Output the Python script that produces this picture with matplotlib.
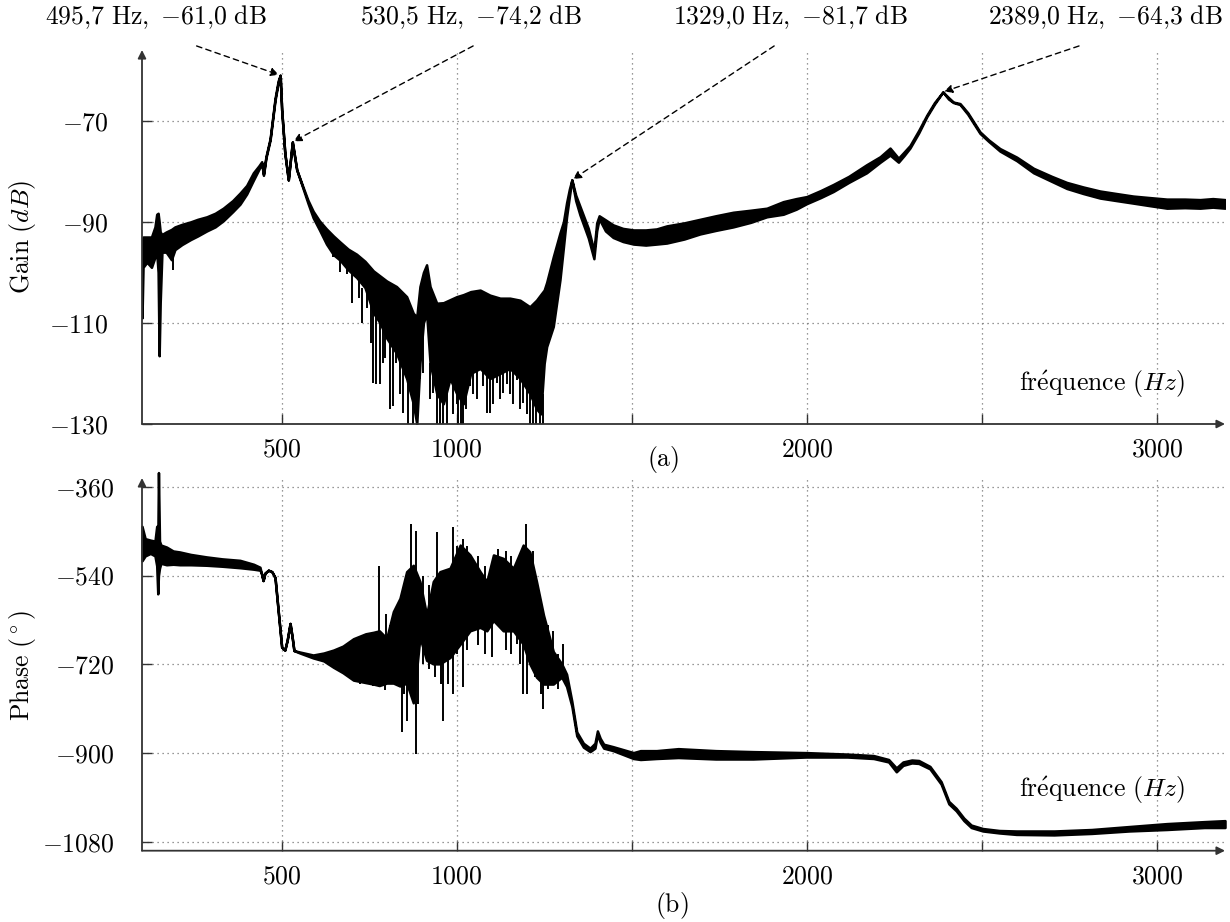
import numpy as np
import matplotlib
matplotlib.use("Agg")
import matplotlib.pyplot as plt

plt.rcParams['font.family'] = 'serif'
plt.rcParams['font.serif'] = ['cmr10']
plt.rcParams['mathtext.fontset'] = 'cm'
plt.rcParams['axes.formatter.use_mathtext'] = True

# ---------------- gain (dB): envelope of the measured curve ----------------
gain_f = [101, 104, 115, 128, 138, 143, 147, 150, 153, 158, 170, 185, 195, 215, 240,
          260, 286, 310, 333, 360, 381, 400, 419, 435, 443, 448, 455, 467, 481, 490,
          495.7, 500, 509, 519, 530.5, 543, 562, 575, 590, 608, 628, 648, 667, 690,
          714, 738, 762, 781, 800, 828, 857, 876, 886, 895, 905, 914, 924, 943, 962,
          981, 1000, 1019, 1040, 1067, 1095, 1124, 1152, 1181, 1209, 1228, 1240, 1250,
          1257, 1276, 1295, 1305, 1314, 1322, 1329, 1340, 1352, 1376, 1392, 1400, 1407,
          1425, 1447, 1475, 1505, 1540, 1571, 1600, 1650, 1695, 1740, 1790, 1840, 1886,
          1933, 1970, 2000, 2040, 2076, 2120, 2171, 2210, 2238, 2262, 2278, 2295, 2320,
          2343, 2365, 2389, 2405, 2419, 2438, 2460, 2495, 2520, 2552, 2600, 2648, 2700,
          2743, 2790, 2838, 2885, 2933, 2980, 3029, 3080, 3124, 3160, 3195]
gain_lo = [-109, -99, -98, -99, -97, -96, -100, -116.5, -106, -96, -96, -97.5, -95.5, -94.5, -93.5,
           -92.8, -91.8, -91, -89.8, -88, -86.5, -84.5, -81.8, -79.6, -78.4, -80.8, -77.4, -73.8, -66, -62.5,
           -61.0, -67.8, -76.4, -81.7, -74.2, -79.7, -83.6, -86.3, -89.2, -91.6, -94.4, -96.5, -97.6, -99.5,
           -101, -103, -108, -110, -113, -116, -121, -126, -130, -118, -110, -108, -118, -124, -126,
           -121, -124, -126, -120, -119, -121, -120, -119, -121, -124, -127, -128, -118,
           -114.7, -110.7, -101.5, -95, -89, -85, -81.7, -85.8, -88.6, -93.2, -97.3, -91.8, -89.4,
           -91.8, -93.1, -93.9, -94.4, -94.6, -94.4, -94.2, -93.4, -92.4, -91.7, -91, -90.1, -89,
           -88.5, -87.5, -86.4, -85.2, -84, -82.2, -80.3, -78.2, -76.8, -78.2, -76.9, -75.4, -72.4,
           -69.2, -66.7, -64.3, -65.7, -66.4, -66.8, -68.7, -72.5, -74.1, -76, -77.9, -80.3, -82,
           -83.4, -84.4, -85.3, -85.8, -86.3, -86.8, -87.3, -87.2, -87.3, -87.1, -87.3]
gain_hi = [-94, -93, -93, -93, -91, -88.5, -88.3, -90, -92, -92.5, -92, -91.5, -91, -90.5, -90,
           -89.5, -89, -88.3, -87.3, -85.8, -84.3, -82.8, -80.3, -78.9, -78.1, -80.6, -77.1, -73.5, -65.6, -62.1,
           -61.0, -67.8, -76.4, -81.7, -74.2, -79.7, -83.3, -85.7, -87.9, -89.8, -91.4, -92.8, -94, -95.4,
           -96.4, -97.8, -99.7, -100.7, -101.7, -102.8, -104.8, -108.1, -108.8, -102.8, -100, -98.5, -102.8, -106.1, -106,
           -105.4, -104.8, -104.4, -103.8, -103.5, -104.5, -105.1, -105.1, -105.5, -106.8, -105.5, -104.4, -103.5,
           -102, -96.9, -92.2, -90, -86.2, -83.5, -81.7, -84.7, -86.9, -91.3, -95.7, -90.2, -88.8,
           -89.6, -90.6, -91.3, -91.6, -91.6, -91.4, -90.8, -90.2, -89.5, -88.8, -88.1, -87.7, -87.3,
           -86, -85.4, -85, -83.8, -82.6, -81, -78.7, -77.1, -75.4, -77.4, -76.2, -74.9, -71.9,
           -68.9, -66.4, -64.3, -65.4, -66.3, -66.6, -68.4, -72.2, -73.8, -75.5, -77.2, -79.4, -81,
           -82.2, -83.1, -83.9, -84.4, -84.9, -85.2, -85.5, -85.5, -85.6, -85.4, -85.6]

# isolated noise spikes below the band: frequency, bottom, top
gain_spike_f = [190, 648, 667, 686, 700, 720, 730, 743, 755, 762, 770, 781, 790, 795, 809,
                819, 828, 838, 847, 860, 876, 895, 905, 924, 933, 943, 952, 960, 971, 990,
                1000, 1005, 1012, 1019, 1028, 1038, 1048, 1057, 1076, 1086, 1095, 1105, 1114,
                1124, 1133, 1143, 1152, 1162, 1171, 1181, 1190, 1200, 1209, 1218, 1228, 1238, 1247]
gain_spike_lo = [-99.5, -97, -100, -100.3, -106, -105, -110, -107, -114, -121.8, -122, -122, -118, -117, -127,
                 -126.5, -118, -124, -127.9, -130, -130, -121, -120, -125, -123.9, -130, -130, -130, -130, -128,
                 -126, -130, -130, -130, -127, -122.4, -124, -125, -122.4, -127.8, -127.8, -126, -121.8,
                 -125, -123.9, -122, -124, -126, -121.2, -127, -125.8, -128, -130, -130, -130, -130, -130]
gain_spike_hi = [-95, -93, -95, -96, -100, -99, -103, -101, -106, -106, -108, -108, -110, -110, -112,
                 -112, -112, -114, -116, -118, -125, -115, -110, -118, -118, -122, -124, -124, -122, -120,
                 -120, -124, -124, -124, -120, -118, -118, -116, -116, -117, -118, -118, -118,
                 -118, -118, -116, -116, -118, -117, -118, -118, -120, -120, -122, -124, -124, -124]

# ---------------- phase (deg): envelope of the measured curve ----------------
phase_f = [101, 110, 125, 138, 143, 146, 148, 151, 155, 171, 190, 209, 240, 285, 330, 381,
           420, 438, 442, 447, 452, 462, 472, 481, 490, 500, 509, 516, 524, 530, 535, 552,
           590, 620, 648, 675, 705, 740, 762, 779, 800, 819, 838, 857, 876, 895, 914, 933,
           952, 981, 1010, 1038, 1067, 1086, 1105, 1133, 1162, 1190, 1209, 1228, 1248, 1276,
           1300, 1314, 1329, 1343, 1362, 1381, 1395, 1402, 1410, 1420, 1447, 1505, 1525,
           1571, 1633, 1740, 1847, 1998, 2116, 2191, 2234, 2256, 2275, 2300, 2320, 2352,
           2384, 2406, 2427, 2449, 2470, 2503, 2550, 2599, 2707, 2814, 2921, 3029, 3136, 3195]
phase_lo = [-510, -500, -495, -500, -520, -577, -540, -525, -515, -518, -517, -518, -518, -519, -521, -524,
            -527, -529, -535, -550, -535, -529, -532, -544, -611, -685, -691, -670, -637, -665, -692, -697,
            -707, -713, -726, -737, -752, -757, -760, -763, -758, -758, -764, -758, -798, -665, -712, -719,
            -719, -706, -679, -652, -645, -652, -631, -652, -652, -679, -719, -746, -760, -760,
            -746, -765, -805, -865, -888, -897, -890, -862, -878, -890, -895, -911, -913,
            -911, -909, -912, -912, -908, -908, -911, -918, -938, -925, -920, -921, -932,
            -963, -1003, -1017, -1037, -1051, -1058, -1062, -1065, -1066, -1063, -1058, -1055, -1051, -1051]
phase_hi = [-440, -465, -468, -470, -440, -480, -331, -470, -478, -482, -490, -492, -497, -502, -506, -509,
            -517, -523, -535, -550, -535, -529, -532, -544, -611, -685, -691, -670, -637, -665, -692, -695,
            -701, -697, -691, -683, -668, -658, -655, -652, -667, -613, -586, -532, -519, -552, -620, -552,
            -532, -525, -478, -498, -532, -552, -498, -505, -525, -478, -492, -552, -620, -694,
            -719, -740, -795, -857, -880, -890, -880, -855, -870, -882, -887, -899, -895,
            -895, -891, -895, -897, -899, -902, -905, -913, -930, -918, -914, -915, -927,
            -958, -998, -1012, -1032, -1046, -1053, -1057, -1058, -1058, -1055, -1049, -1043, -1039, -1037]

# isolated noise spikes: frequency, bottom, top
phase_spike_f = [724, 762, 779, 795, 798, 810, 826, 831, 843, 850, 857, 869, 883, 884, 890,
                 905, 920, 938, 943, 955, 962, 976, 990, 1000, 1017, 1030, 1060, 1080, 1100,
                 1117, 1140, 1155, 1171, 1180, 1190, 1198, 1200, 1219, 1224, 1240, 1248, 1260,
                 1276, 1290, 1305]
phase_spike_lo = [-760, -763, -665, -773, -700, -760, -760, -700, -857, -780, -834, -564, -901, -600, -800,
                  -720, -730, -746, -600, -760, -834, -760, -780, -700, -766, -690, -680, -700, -706,
                  -600, -690, -700, -679, -720, -780, -560, -780, -600, -746, -780, -810, -770,
                  -760, -770, -740]
phase_spike_hi = [-700, -700, -520, -700, -618, -640, -700, -608, -700, -650, -700, -436, -700, -449, -600,
                  -540, -560, -650, -452, -680, -650, -650, -442, -480, -466, -480, -500, -520, -600,
                  -486, -490, -500, -600, -510, -650, -436, -650, -490, -650, -600, -700, -640,
                  -652, -700, -679]

# annotated peaks: frequency, gain, arrow tail frequency, label centre frequency
peak_f = [495.7, 530.5, 1329.0, 2389.0]
peak_gain = [-61.0, -74.2, -81.7, -64.3]
tail_f = [257, 1047, 1907, 2778]
label_f = [141, 1041, 1952, 2852]

x_ticks = [500, 1000, 1500, 2000, 2500, 3000]
x_labels = ['$500$', '$1000$', '', '$2000$', '', '$3000$']
gain_ticks = [-130, -110, -90, -70]
phase_ticks = [-1080, -900, -720, -540, -360]

FS = 18.5
W, H = 1230, 922
fig = plt.figure(figsize=(W / 100, H / 100), dpi=100)
ax1 = fig.add_axes([142 / W, (H - 424) / H, 1083 / W, 374 / H])
ax2 = fig.add_axes([142 / W, (H - 850.7) / H, 1083 / W, 372.7 / H])


def style_axis(ax, yticks, ypad):
    ax.set_xlim(101, 3195)
    for s in ['top', 'right', 'left', 'bottom']:
        ax.spines[s].set_visible(False)
    ax.set_xticks(x_ticks)
    ax.set_xticklabels(x_labels, fontsize=FS)
    ax.set_yticks(yticks)
    ax.set_yticklabels(['$%d$' % v for v in yticks], fontsize=FS)
    ax.tick_params(direction='in', length=7, width=1, color='#333333')
    ax.tick_params(axis='x', pad=10)
    ax.tick_params(axis='y', pad=ypad)
    ax.grid(True, linestyle=(0, (1, 3)), color='#777777', linewidth=0.9)
    for xy in [(1.0, 0.0), (0.0, 1.0)]:
        ax.annotate('', xy=xy, xytext=(0, 0), xycoords='axes fraction',
                    arrowprops=dict(arrowstyle='-|>', color='#333333', lw=1.3,
                                    mutation_scale=12, shrinkA=0, shrinkB=0))


def comma(v):
    return ('%.1f' % v).replace('.', '{,}')


# gain
ax1.fill_between(gain_f, gain_lo, gain_hi, color='black', lw=1.8, zorder=3)
ax1.vlines(gain_spike_f, gain_spike_lo, gain_spike_hi, color='black', lw=1.4, zorder=3)
ax1.set_ylim(-130, -56)
style_axis(ax1, gain_ticks, 24)
for pf, pg, tf, lf in zip(peak_f, peak_gain, tail_f, label_f):
    ax1.annotate('', xy=(pf, pg), xytext=(tf, -55.2), annotation_clip=False,
                 arrowprops=dict(arrowstyle='-|>', linestyle=(0, (4, 3)), color='black',
                                 lw=1.0, mutation_scale=12, shrinkA=0, shrinkB=1))
    txt = '$%s\\ \\mathrm{Hz},\\ {%s}\\ \\mathrm{dB}$' % (comma(pf), comma(pg))
    ax1.text(lf, -49.6, txt, ha='center', va='center', fontsize=FS)
ax1.text(3081, -122.1, r'$\mathrm{fr\acute{e}quence}\ (Hz)$', ha='right', va='center', fontsize=FS)

# phase
ax2.fill_between(phase_f, phase_lo, phase_hi, color='black', lw=1.8, zorder=3, clip_on=False)
ax2.vlines(phase_spike_f, phase_spike_lo, phase_spike_hi, color='black', lw=1.4, zorder=3)
ax2.set_ylim(-1098, -342)
style_axis(ax2, phase_ticks, 20)
ax2.text(3081, -975, r'$\mathrm{fr\acute{e}quence}\ (Hz)$', ha='right', va='center', fontsize=FS)

fig.text(22 / W, 1 - 237 / H, r'$\mathrm{Gain}\ (dB)$', rotation=90, ha='center', va='center', fontsize=FS)
fig.text(22 / W, 1 - 665 / H, r'$\mathrm{Phase}\ (^\circ)$', rotation=90, ha='center', va='center', fontsize=FS)
fig.text(663 / W, 1 - 459 / H, '$\\mathrm{(a)}$', ha='center', va='center', fontsize=FS)
fig.text(672 / W, 1 - 905 / H, '$\\mathrm{(b)}$', ha='center', va='center', fontsize=FS)

fig.savefig('out.png', dpi=100)
